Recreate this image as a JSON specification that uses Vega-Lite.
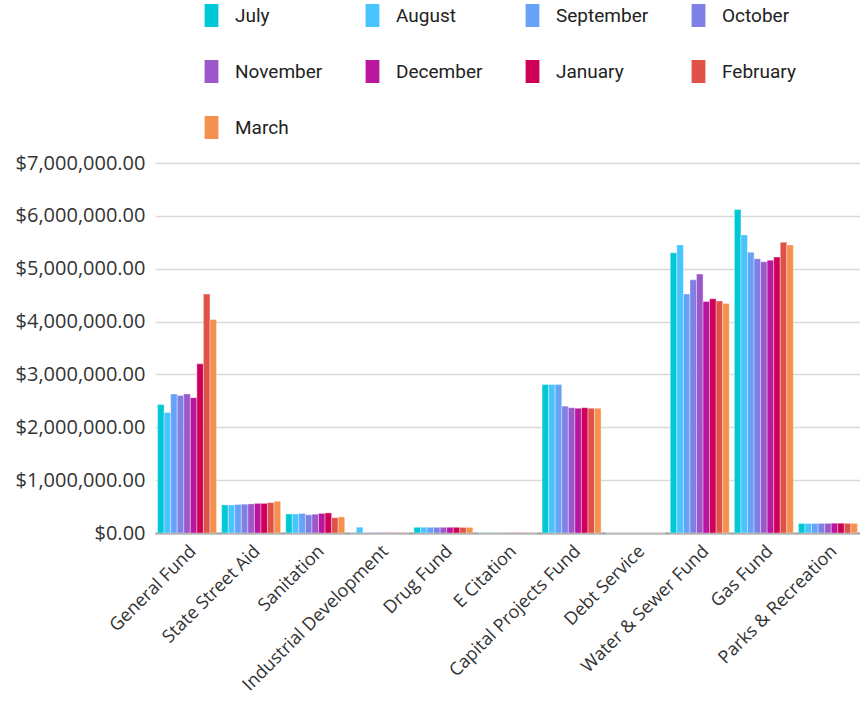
{
  "$schema": "https://vega.github.io/schema/vega-lite/v6.json",
  "width": 705,
  "height": 370,
  "autosize": {"type": "none"},
  "padding": {"left": 155, "top": 163, "right": 0, "bottom": 182},
  "background": "white",
  "config": {
    "view": {"stroke": null},
    "font": "Open Sans",
    "axis": {"labelFont": "Open Sans", "labelColor": "#333333", "labelFontSize": 18}
  },
  "data": {
    "values": [
      {"fund": "General Fund", "month": "July", "value": 2430000},
      {"fund": "General Fund", "month": "August", "value": 2280000},
      {"fund": "General Fund", "month": "September", "value": 2630000},
      {"fund": "General Fund", "month": "October", "value": 2600000},
      {"fund": "General Fund", "month": "November", "value": 2630000},
      {"fund": "General Fund", "month": "December", "value": 2560000},
      {"fund": "General Fund", "month": "January", "value": 3200000},
      {"fund": "General Fund", "month": "February", "value": 4520000},
      {"fund": "General Fund", "month": "March", "value": 4040000},
      {"fund": "State Street Aid", "month": "July", "value": 530000},
      {"fund": "State Street Aid", "month": "August", "value": 530000},
      {"fund": "State Street Aid", "month": "September", "value": 540000},
      {"fund": "State Street Aid", "month": "October", "value": 545000},
      {"fund": "State Street Aid", "month": "November", "value": 550000},
      {"fund": "State Street Aid", "month": "December", "value": 560000},
      {"fund": "State Street Aid", "month": "January", "value": 560000},
      {"fund": "State Street Aid", "month": "February", "value": 575000},
      {"fund": "State Street Aid", "month": "March", "value": 600000},
      {"fund": "Sanitation", "month": "July", "value": 360000},
      {"fund": "Sanitation", "month": "August", "value": 360000},
      {"fund": "Sanitation", "month": "September", "value": 370000},
      {"fund": "Sanitation", "month": "October", "value": 345000},
      {"fund": "Sanitation", "month": "November", "value": 355000},
      {"fund": "Sanitation", "month": "December", "value": 370000},
      {"fund": "Sanitation", "month": "January", "value": 380000},
      {"fund": "Sanitation", "month": "February", "value": 290000},
      {"fund": "Sanitation", "month": "March", "value": 305000},
      {"fund": "Industrial Development", "month": "July", "value": 6000},
      {"fund": "Industrial Development", "month": "August", "value": 110000},
      {"fund": "Industrial Development", "month": "September", "value": 6000},
      {"fund": "Industrial Development", "month": "October", "value": 6000},
      {"fund": "Industrial Development", "month": "November", "value": 6000},
      {"fund": "Industrial Development", "month": "December", "value": 6000},
      {"fund": "Industrial Development", "month": "January", "value": 6000},
      {"fund": "Industrial Development", "month": "February", "value": 6000},
      {"fund": "Industrial Development", "month": "March", "value": 6000},
      {"fund": "Drug Fund", "month": "July", "value": 108000},
      {"fund": "Drug Fund", "month": "August", "value": 108000},
      {"fund": "Drug Fund", "month": "September", "value": 108000},
      {"fund": "Drug Fund", "month": "October", "value": 108000},
      {"fund": "Drug Fund", "month": "November", "value": 108000},
      {"fund": "Drug Fund", "month": "December", "value": 108000},
      {"fund": "Drug Fund", "month": "January", "value": 108000},
      {"fund": "Drug Fund", "month": "February", "value": 105000},
      {"fund": "Drug Fund", "month": "March", "value": 105000},
      {"fund": "E Citation", "month": "July", "value": 4000},
      {"fund": "E Citation", "month": "August", "value": 4000},
      {"fund": "E Citation", "month": "September", "value": 4000},
      {"fund": "E Citation", "month": "October", "value": 4000},
      {"fund": "E Citation", "month": "November", "value": 4000},
      {"fund": "E Citation", "month": "December", "value": 4000},
      {"fund": "E Citation", "month": "January", "value": 4000},
      {"fund": "E Citation", "month": "February", "value": 4000},
      {"fund": "E Citation", "month": "March", "value": 4000},
      {"fund": "Capital Projects Fund", "month": "July", "value": 2810000},
      {"fund": "Capital Projects Fund", "month": "August", "value": 2810000},
      {"fund": "Capital Projects Fund", "month": "September", "value": 2810000},
      {"fund": "Capital Projects Fund", "month": "October", "value": 2400000},
      {"fund": "Capital Projects Fund", "month": "November", "value": 2370000},
      {"fund": "Capital Projects Fund", "month": "December", "value": 2360000},
      {"fund": "Capital Projects Fund", "month": "January", "value": 2370000},
      {"fund": "Capital Projects Fund", "month": "February", "value": 2360000},
      {"fund": "Capital Projects Fund", "month": "March", "value": 2360000},
      {"fund": "Debt Service", "month": "July", "value": 0},
      {"fund": "Debt Service", "month": "August", "value": 0},
      {"fund": "Debt Service", "month": "September", "value": 0},
      {"fund": "Debt Service", "month": "October", "value": 0},
      {"fund": "Debt Service", "month": "November", "value": 0},
      {"fund": "Debt Service", "month": "December", "value": 0},
      {"fund": "Debt Service", "month": "January", "value": 0},
      {"fund": "Debt Service", "month": "February", "value": 0},
      {"fund": "Debt Service", "month": "March", "value": 0},
      {"fund": "Water & Sewer Fund", "month": "July", "value": 5300000},
      {"fund": "Water & Sewer Fund", "month": "August", "value": 5450000},
      {"fund": "Water & Sewer Fund", "month": "September", "value": 4520000},
      {"fund": "Water & Sewer Fund", "month": "October", "value": 4790000},
      {"fund": "Water & Sewer Fund", "month": "November", "value": 4900000},
      {"fund": "Water & Sewer Fund", "month": "December", "value": 4380000},
      {"fund": "Water & Sewer Fund", "month": "January", "value": 4430000},
      {"fund": "Water & Sewer Fund", "month": "February", "value": 4390000},
      {"fund": "Water & Sewer Fund", "month": "March", "value": 4340000},
      {"fund": "Gas Fund", "month": "July", "value": 6120000},
      {"fund": "Gas Fund", "month": "August", "value": 5640000},
      {"fund": "Gas Fund", "month": "September", "value": 5310000},
      {"fund": "Gas Fund", "month": "October", "value": 5190000},
      {"fund": "Gas Fund", "month": "November", "value": 5130000},
      {"fund": "Gas Fund", "month": "December", "value": 5160000},
      {"fund": "Gas Fund", "month": "January", "value": 5220000},
      {"fund": "Gas Fund", "month": "February", "value": 5500000},
      {"fund": "Gas Fund", "month": "March", "value": 5450000},
      {"fund": "Parks & Recreation", "month": "July", "value": 180000},
      {"fund": "Parks & Recreation", "month": "August", "value": 180000},
      {"fund": "Parks & Recreation", "month": "September", "value": 180000},
      {"fund": "Parks & Recreation", "month": "October", "value": 182000},
      {"fund": "Parks & Recreation", "month": "November", "value": 182000},
      {"fund": "Parks & Recreation", "month": "December", "value": 185000},
      {"fund": "Parks & Recreation", "month": "January", "value": 185000},
      {"fund": "Parks & Recreation", "month": "February", "value": 182000},
      {"fund": "Parks & Recreation", "month": "March", "value": 182000}
    ]
  },
  "mark": {"type": "bar", "stroke": "white", "strokeWidth": 0.6, "strokeOpacity": 0.6},
  "encoding": {
    "x": {
      "field": "fund",
      "type": "nominal",
      "sort": null,
      "title": null,
      "scale": {"paddingInner": 0.08, "paddingOuter": 0.04},
      "axis": {
        "labelAngle": -45,
        "ticks": false,
        "domainColor": "#9e9e9e",
        "domainWidth": 2,
        "labelPadding": 9,
        "labelLimit": 400,
        "grid": false
      }
    },
    "xOffset": {
      "field": "month",
      "type": "nominal",
      "sort": ["July", "August", "September", "October", "November", "December", "January", "February", "March"]
    },
    "y": {
      "field": "value",
      "type": "quantitative",
      "title": null,
      "scale": {"domain": [0, 7000000]},
      "axis": {
        "values": [0, 1000000, 2000000, 3000000, 4000000, 5000000, 6000000, 7000000],
        "format": "$,.2f",
        "domain": false,
        "ticks": false,
        "gridColor": "#d9d9d9",
        "gridWidth": 1.5,
        "labelPadding": 10,
        "labelFontSize": 20
      }
    },
    "color": {
      "field": "month",
      "type": "nominal",
      "sort": ["July", "August", "September", "October", "November", "December", "January", "February", "March"],
      "scale": {
        "domain": ["July", "August", "September", "October", "November", "December", "January", "February", "March"],
        "range": ["#00C8D7", "#48C5FD", "#65A2F8", "#7F80E5", "#9A58CB", "#B9179D", "#CE0058", "#DF5248", "#F5914F"]
      },
      "legend": {
        "title": null,
        "orient": "none",
        "legendX": 45,
        "legendY": -159,
        "direction": "horizontal",
        "columns": 4,
        "symbolType": "M-0.6,-1H0.6V1H-0.6Z",
        "symbolSize": 529,
        "symbolStrokeWidth": 0,
        "labelFontSize": 19,
        "labelFont": "Roboto",
        "labelColor": "#222222",
        "labelOffset": 12,
        "columnPadding": 38,
        "rowPadding": 33
      }
    }
  }
}
